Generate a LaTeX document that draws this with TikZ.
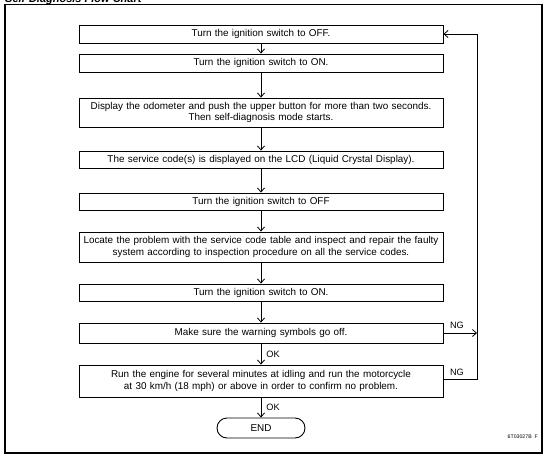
\documentclass[tikz,border=0pt]{standalone}
\usepackage{fontspec}
\setmainfont{Liberation Sans}
\usetikzlibrary{arrows.meta}
\begin{document}
\begin{tikzpicture}[x=1pt,y=-1pt,
  every node/.style={font=\fontsize{9.9}{11.5}\selectfont, inner sep=0pt},
  stepbox/.style={draw, line width=0.9pt, minimum width=364pt, align=center, text width=360pt},
  endbox/.style={draw, line width=0.9pt, rounded corners=10pt, minimum width=88pt, minimum height=20pt},
  flow/.style={draw, line width=0.8pt, -{Straight Barb[length=4pt,width=7pt]}},
  lbl/.style={font=\fontsize{9.2}{10}\selectfont}]
\useasboundingbox (0,0) rectangle (550,461);
\node[anchor=base west, font=\fontsize{11}{13}\selectfont\bfseries\itshape] (title) at (5,2.5) {Self-Diagnosis Flow Chart};
\draw[line width=1.2pt] (5,4.5) rectangle (542,453);
\node[stepbox, minimum height=18pt] (b1) at (261,34) {Turn the ignition switch to OFF.};
\node[stepbox, minimum height=18pt] (b2) at (261,63) {Turn the ignition switch to ON.};
\node[stepbox, minimum height=29pt] (b3) at (261,112.5) {Display the odometer and push the upper button for more than two seconds.\\Then self-diagnosis mode starts.};
\node[stepbox, minimum height=17pt] (b4) at (261,159.5) {The service code(s) is displayed on the LCD (Liquid Crystal Display).};
\node[stepbox, minimum height=17pt] (b5) at (261,201.5) {Turn the ignition switch to OFF};
\node[stepbox, minimum height=30pt] (b6) at (261,247) {Locate the problem with the service code table and inspect and repair the faulty\\system according to inspection procedure on all the service codes.};
\node[stepbox, minimum height=17pt] (b7) at (261,292.5) {Turn the ignition switch to ON.};
\node[stepbox, minimum height=20pt] (b8) at (261,333) {Make sure the warning symbols go off.};
\node[stepbox, minimum height=32pt] (b9) at (261,381) {Run the engine for several minutes at idling and run the motorcycle\\at 30 km/h (18 mph) or above in order to confirm no problem.};
\node[endbox] (end) at (261,428) {END};
\draw[flow] (b1) -- (b2);
\draw[flow] (b2) -- (b3);
\draw[flow] (b3) -- (b4);
\draw[flow] (b4) -- (b5);
\draw[flow] (b5) -- (b6);
\draw[flow] (b6) -- (b7);
\draw[flow] (b7) -- (b8);
\draw[flow] (b8) -- node[lbl, right=5pt] (ok1) {OK} (b9);
\draw[flow] (b9) -- node[lbl, right=5pt] (ok2) {OK} (end);
\coordinate (loopB) at (477,379);
\coordinate (loopT) at (477,34);
\coordinate (ngA) at (477,333);
\draw[flow] (b9.east |- loopB) -- (loopB) -- (loopT) -- (b1.east);
\draw[flow] (b8.east) -- (ngA);
\node[lbl] (ng1) at (457,325) {NG};
\node[lbl] (ng2) at (457,372) {NG};
\node[anchor=east, font=\fontsize{5.2}{6}\selectfont] (code) at (538,437) {6T03027B\ \ F};
\end{tikzpicture}
\end{document}
